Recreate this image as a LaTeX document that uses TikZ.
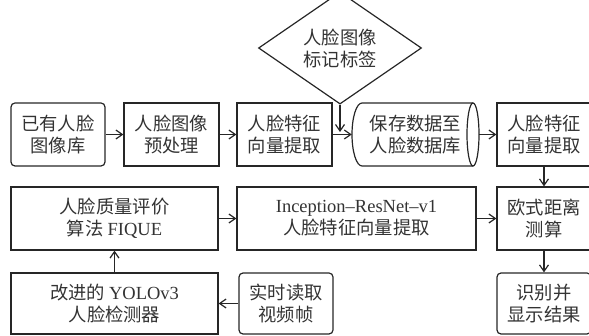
\documentclass[tikz,border=0pt]{standalone}
\usepackage{fontspec}
\setmainfont{Liberation Serif}
\newfontfamily\cjk{Noto Sans CJK SC}
\usetikzlibrary{arrows.meta,shapes.geometric}
\begin{document}
\begin{tikzpicture}[x=1pt,y=-1pt,
  every node/.style={font=\fontsize{18.3}{22}\selectfont\cjk, text=black!80, align=center, inner sep=0pt},
  box/.style={draw=black!85, line width=1.2pt, minimum height=63pt},
  rbox/.style={box, rounded corners=4pt},
  conn/.style={draw=black!85, line width=1.2pt, -{Straight Barb[length=6.5pt,width=9pt,line width=1.2pt]}},
  outl/.style={draw=black!85, line width=1.2pt}]
\useasboundingbox (0,0) rectangle (589,336);
% row 1
\node[rbox, minimum width=94pt] (A) at (58,134.5) {已有人脸\\图像库};
\node[box, minimum width=95pt] (B) at (171.5,134.5) {人脸图像\\预处理};
\node[box, minimum width=95pt] (C) at (284.5,134.5) {人脸特征\\向量提取};
\node[minimum width=127pt, minimum height=63pt] (D) at (415.5,134.5) {保存数据至\\人脸数据库};
\draw[outl] (362,103) -- (473,103)
  (362,103) arc[start angle=270, end angle=90, x radius=10, y radius=31.5] -- (473,166);
\draw[outl] (473,134.5) ellipse[x radius=6, y radius=31.5];
\node[box, minimum width=94pt] (E) at (544,134.5) {人脸特征\\向量提取};
\node[diamond, outl, minimum width=163pt, minimum height=80pt] (T) at (340,48) {人脸图像\\标记标签};
% row 2
\node[box, minimum width=207pt] (F) at (114.5,218.5) {人脸质量评价\\算法 {\rmfamily\fontsize{18.5}{22}\selectfont FIQUE}};
\node[box, minimum width=239pt] (G) at (356.5,218.5) {{\rmfamily\fontsize{18.5}{22}\selectfont Inception–ResNet–v1}\\人脸特征向量提取};
\node[box, minimum width=94pt] (H) at (544,218.5) {欧式距离\\测算};
% row 3
\node[box, minimum width=207pt, minimum height=61pt] (I) at (114.5,303.5) {改进的 {\rmfamily\fontsize{18.5}{22}\selectfont YOLOv3}\\人脸检测器};
\node[rbox, minimum width=94pt, minimum height=61pt] (J) at (286,303.5) {实时读取\\视频帧};
\node[rbox, minimum width=94pt, minimum height=61pt] (K) at (544,303.5) {识别并\\显示结果};
\coordinate (TD) at (340,132);
% connectors
\draw[conn] (A) -- (B);
\draw[conn] (B) -- (C);
\draw[conn] (C.east) -- (D.west);
\draw[conn] (T.south) -- (TD);
\draw[conn] (473+6,134.5) -- (E.west);
\draw[conn] (E) -- (H);
\draw[conn] (H) -- (K);
\draw[conn] (F) -- (G);
\draw[conn] (G) -- (H);
\draw[conn] (J) -- (I);
\draw[conn] (I) -- (F);
\end{tikzpicture}
\end{document}
